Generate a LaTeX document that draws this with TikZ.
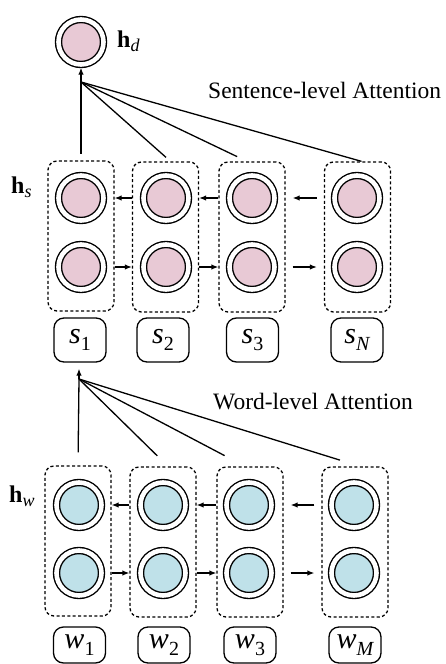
\documentclass[tikz,border=0pt]{standalone}
\usepackage{fontspec}
\setmainfont{Liberation Serif}
\usetikzlibrary{arrows.meta}
\definecolor{cellpink}{RGB}{232,201,213}
\definecolor{cellblue}{RGB}{191,225,233}
\newcommand{\hlab}[1]{{\fontsize{24}{26}\selectfont\bfseries h}\raisebox{-4pt}{\fontsize{18}{19}\selectfont\itshape #1}}
\newcommand{\toklab}[2]{{\fontsize{30}{32}\selectfont\itshape #1}\raisebox{-7pt}{\fontsize{20}{21}\selectfont #2}}
\begin{document}
\begin{tikzpicture}[x=1pt,y=-1pt,
  cell/.style={circle, draw, line width=1.4pt, double=white, double distance=4.6pt, minimum size=45pt, inner sep=0pt},
  colbox/.style={draw, line width=1.3pt, dash pattern=on 3pt off 2.4pt, rounded corners=9pt, minimum width=66pt, minimum height=150pt, inner sep=0pt},
  tok/.style={draw, line width=1.3pt, rounded corners=10pt, minimum width=52pt, minimum height=44pt, inner sep=0pt},
  arr/.style={-{Latex[length=7pt,width=5.5pt]}, line width=1.3pt},
  att/.style={line width=1.3pt},
  txt/.style={font=\fontsize{23.5}{26}\selectfont, inner sep=0pt}]
\useasboundingbox (0,0) rectangle (445,664);

% ---------- sentence level ----------
\node[cell, fill=cellpink] (hd) at (81,42) {};
\node[anchor=base west, inner sep=0pt] (lhd) at (117,47) {\hlab{d}};
\node[txt, anchor=base west] (satt) at (208,98) {Sentence-level Attention};

\node[colbox] (B1) at (81,236) {};
\node[colbox] (B2) at (165.5,237) {};
\node[colbox] (B3) at (252,237) {};
\node[colbox] (BN) at (357.5,237) {};

\node[cell, fill=cellpink] (s1t) at (81,198) {};
\node[cell, fill=cellpink] (s1b) at (81,267) {};
\node[cell, fill=cellpink] (s2t) at (166,198) {};
\node[cell, fill=cellpink] (s2b) at (166,267) {};
\node[cell, fill=cellpink] (s3t) at (252,198) {};
\node[cell, fill=cellpink] (s3b) at (252,267) {};
\node[cell, fill=cellpink] (sNt) at (357,198) {};
\node[cell, fill=cellpink] (sNb) at (357,267) {};

\node[anchor=base west, inner sep=0pt] (lhs) at (11,193) {\hlab{s}};

\node[tok] (t1) at (80,340) {\toklab{s}{1}};
\node[tok] (t2) at (163,340) {\toklab{s}{2}};
\node[tok] (t3) at (252.5,340) {\toklab{s}{3}};
\node[tok] (tN) at (357,340) {\toklab{s}{\itshape N}};

\coordinate (cs) at (81,82);
\draw[arr, shorten >=2.5pt] (cs) -- (hd);
\draw[att, shorten >=6pt] (cs) -- (B1.north);
\draw[att, shorten >=6pt] (cs) -- ([xshift=5pt]B2.north);
\draw[att, shorten >=11pt] (cs) -- ([xshift=-5pt]B3.north);
\draw[att] (cs) -- ([xshift=4pt]BN.north);

\draw[arr] (B2.west |- s2t) -- (B1.east |- s1t);
\draw[arr] (B3.west |- s3t) -- (B2.east |- s2t);
\draw[arr, shorten <=7pt, shorten >=7pt] (BN.west |- sNt) -- (B3.east |- s3t);
\draw[arr] (B1.east |- s1b) -- (B2.west |- s2b);
\draw[arr] (B2.east |- s2b) -- (B3.west |- s3b);
\draw[arr, shorten <=7pt, shorten >=7pt] (B3.east |- s3b) -- (BN.west |- sNb);

% ---------- word level ----------
\node[txt, anchor=base west] (watt) at (213,409) {Word-level Attention};

\node[colbox] (W1) at (78,541) {};
\node[colbox] (W2) at (163,542) {};
\node[colbox] (W3) at (250,542) {};
\node[colbox] (WM) at (355,542) {};

\node[cell, fill=cellblue] (w1t) at (79,505) {};
\node[cell, fill=cellblue] (w1b) at (79,573) {};
\node[cell, fill=cellblue] (w2t) at (163,505) {};
\node[cell, fill=cellblue] (w2b) at (163,573) {};
\node[cell, fill=cellblue] (w3t) at (249,505) {};
\node[cell, fill=cellblue] (w3b) at (249,573) {};
\node[cell, fill=cellblue] (wMt) at (354,505) {};
\node[cell, fill=cellblue] (wMb) at (354,573) {};

\node[anchor=base west, inner sep=0pt] (lhw) at (9,502) {\hlab{w}};

\node[tok, minimum height=36pt] (u1) at (79.5,645) {\toklab{w}{1}};
\node[tok, minimum height=36pt] (u2) at (164,645) {\toklab{w}{2}};
\node[tok, minimum height=36pt] (u3) at (250,645) {\toklab{w}{3}};
\node[tok, minimum height=36pt] (uM) at (355,645) {\toklab{w}{\itshape M}};

\coordinate (cw) at (79,379);
\draw[arr, shorten >=6pt] (cw) -- (cw |- t1.south);
\draw[att, shorten >=13pt] (cw) -- (W1.north);
\draw[att, shorten >=15pt] (cw) -- ([xshift=5pt]W2.north);
\draw[att, shorten >=23pt] (cw) -- ([xshift=-5pt]W3.north);
\draw[att, shorten >=21pt] (cw) -- ([xshift=5pt]WM.north);

\draw[arr] (W2.west |- w2t) -- (W1.east |- w1t);
\draw[arr] (W3.west |- w3t) -- (W2.east |- w2t);
\draw[arr, shorten <=7pt, shorten >=7pt] (WM.west |- wMt) -- (W3.east |- w3t);
\draw[arr] (W1.east |- w1b) -- (W2.west |- w2b);
\draw[arr] (W2.east |- w2b) -- (W3.west |- w3b);
\draw[arr, shorten <=7pt, shorten >=7pt] (W3.east |- w3b) -- (WM.west |- wMb);
\end{tikzpicture}
\end{document}
